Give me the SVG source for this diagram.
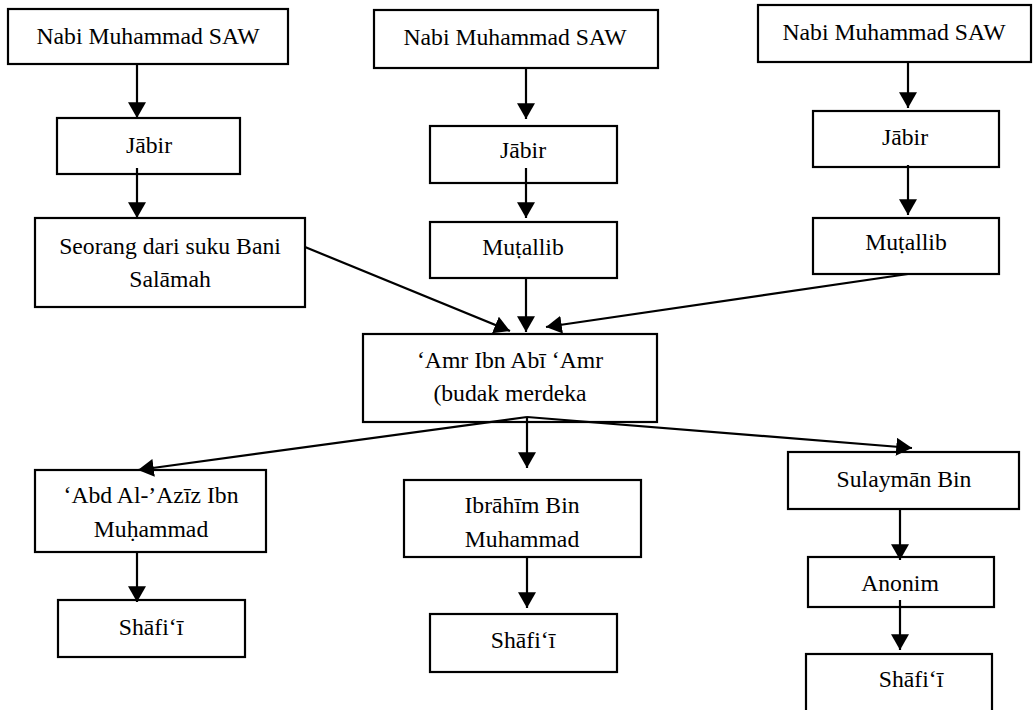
<svg xmlns="http://www.w3.org/2000/svg" width="1033" height="710" viewBox="0 0 1033 710">
<style>
.box{fill:#fff;stroke:#000;stroke-width:2.2}
.t{font-family:'Liberation Serif',serif;font-size:23.7px;fill:#000;text-anchor:middle}
.c{stroke:#000;stroke-width:2.2;fill:none;marker-end:url(#ah)}
</style>
<defs>
<marker id="ah" markerUnits="userSpaceOnUse" markerWidth="16" markerHeight="18" refX="14" refY="8" orient="auto" viewBox="0 0 14 16">
<path d="M0,0 L14,8 L0,16 z" fill="#000"/>
</marker>
</defs>
<rect width="1033" height="710" fill="#fff"/>
<g id="nabi1"><rect class="box" x="8" y="9" width="280" height="55"/><text class="t" x="148" y="44">Nabi Muhammad SAW</text></g>
<g id="jabir1"><rect class="box" x="57" y="118" width="183" height="56"/><text class="t" x="149" y="153">Jābir</text></g>
<g id="seorang"><rect class="box" x="35" y="218" width="270" height="89"/><text class="t" x="170" y="254">Seorang dari suku Bani</text><text class="t" x="170" y="287">Salāmah</text></g>
<g id="nabi2"><rect class="box" x="374" y="10" width="284" height="58"/><text class="t" x="515" y="45">Nabi Muhammad SAW</text></g>
<g id="jabir2"><rect class="box" x="430" y="126" width="187" height="57"/><text class="t" x="523" y="158">Jābir</text></g>
<g id="mutallib2"><rect class="box" x="430" y="222" width="187" height="56"/><text class="t" x="523" y="255">Muṭallib</text></g>
<g id="nabi3"><rect class="box" x="758" y="5" width="273" height="57"/><text class="t" x="894" y="40">Nabi Muhammad SAW</text></g>
<g id="jabir3"><rect class="box" x="813" y="111" width="186" height="56"/><text class="t" x="905" y="145">Jābir</text></g>
<g id="mutallib3"><rect class="box" x="813" y="218" width="186" height="56"/><text class="t" x="906" y="250">Muṭallib</text></g>
<g id="amr"><rect class="box" x="363" y="334" width="294" height="88"/><text class="t" x="510" y="368">‘Amr Ibn Abī ‘Amr</text><text class="t" x="510" y="401">(budak merdeka</text></g>
<g id="abdalaziz"><rect class="box" x="35" y="470" width="231" height="82"/><text class="t" x="151" y="503">‘Abd Al-’Azīz Ibn</text><text class="t" x="151" y="537">Muḥammad</text></g>
<g id="ibrahim"><rect class="box" x="404" y="480" width="237" height="77"/><text class="t" x="522" y="513">Ibrāhīm Bin</text><text class="t" x="522" y="547">Muhammad</text></g>
<g id="sulayman"><rect class="box" x="788" y="452" width="231" height="57"/><text class="t" x="904" y="487">Sulaymān Bin</text></g>
<g id="anonim"><rect class="box" x="808" y="557" width="186" height="50"/><text class="t" x="900" y="591">Anonim</text></g>
<g id="shafii1"><rect class="box" x="58" y="600" width="187" height="57"/><text class="t" x="151" y="635">Shāfi‘ī</text></g>
<g id="shafii2"><rect class="box" x="430" y="614" width="187" height="58"/><text class="t" x="523" y="648">Shāfi‘ī</text></g>
<g id="shafii3"><rect class="box" x="806" y="654" width="186" height="62"/><text class="t" x="911" y="687">Shāfi‘ī</text></g>
<g id="connectors">
<line class="c" x1="137" y1="64" x2="137" y2="118"/>
<line class="c" x1="137" y1="168" x2="137" y2="218"/>
<line class="c" x1="526" y1="68" x2="526" y2="119"/>
<line class="c" x1="526" y1="168" x2="526" y2="218"/>
<line class="c" x1="526" y1="278" x2="526" y2="332"/>
<line class="c" x1="908" y1="62" x2="908" y2="108"/>
<line class="c" x1="908" y1="165" x2="908" y2="215"/>
<line class="c" x1="305" y1="247" x2="510" y2="331"/>
<line class="c" x1="908" y1="274" x2="546" y2="327"/>
<line class="c" x1="527" y1="417" x2="527" y2="468"/>
<line class="c" x1="527" y1="417" x2="138" y2="470"/>
<line class="c" x1="527" y1="417" x2="912" y2="448"/>
<line class="c" x1="137" y1="552" x2="137" y2="602"/>
<line class="c" x1="527" y1="557" x2="527" y2="608"/>
<line class="c" x1="900" y1="509" x2="900" y2="560"/>
<line class="c" x1="900" y1="600" x2="900" y2="650"/>
</g>
</svg>
